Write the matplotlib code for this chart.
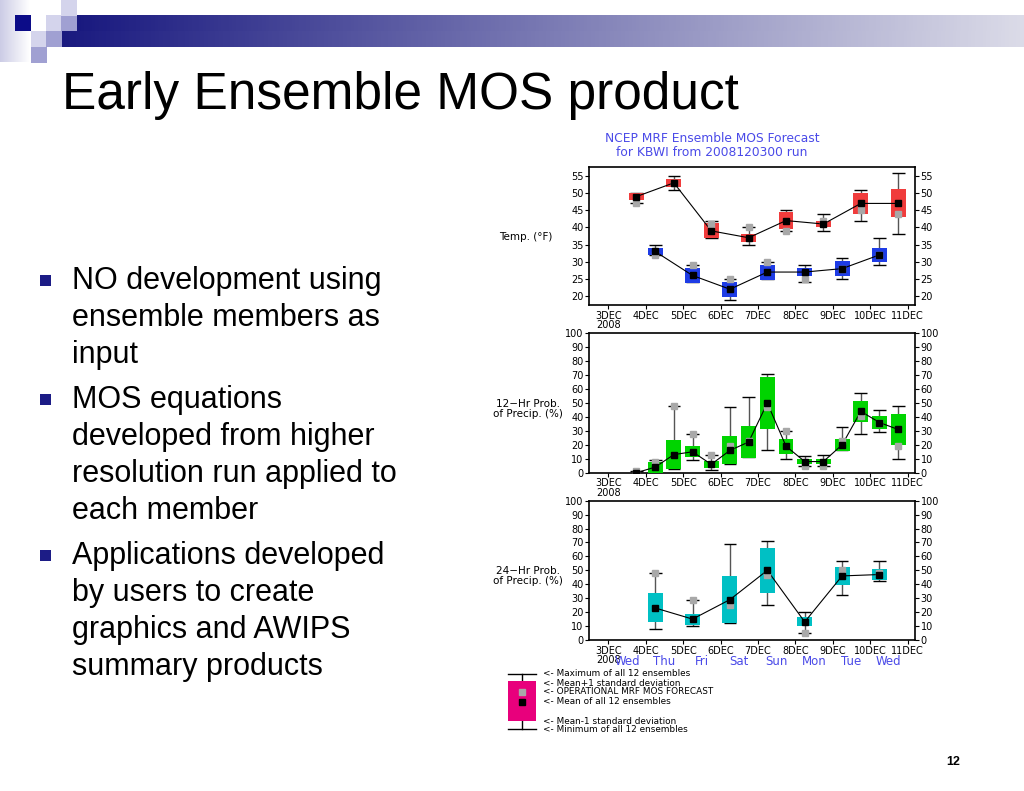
import numpy as np
import matplotlib
matplotlib.use("Agg")
import matplotlib.pyplot as plt
from matplotlib.patches import Rectangle
from matplotlib.transforms import blended_transform_factory

# ---- data (hours after 3DEC 00Z) ----
day_labels = ["3DEC\n2008", "4DEC", "5DEC", "6DEC", "7DEC", "8DEC", "9DEC", "10DEC", "11DEC"]
weekdays = ["Wed", "Thu", "Fri", "Sat", "Sun", "Mon", "Tue", "Wed"]

tmax_hr = [18, 42, 66, 90, 114, 138, 162, 186]
tmax_mean = [49, 53, 39, 37, 42, 41, 47, 47]
tmax_sd = [0.9, 1.1, 2.2, 1.1, 2.5, 1.0, 3.0, 4.1]
tmax_op = [47, 53, 41, 40, 39, 42, 45, 44]
tmax_max = [50, 55, 42, 40, 45, 44, 51, 56]
tmax_min = [47, 51, 37, 35, 39, 39, 42, 38]

tmin_hr = [30, 54, 78, 102, 126, 150, 174]
tmin_mean = [33, 26, 22, 27, 27, 28, 32]
tmin_sd = [1.1, 2.3, 2.2, 2.2, 1.1, 2.2, 2.1]
tmin_op = [32, 29, 25, 30, 25, 28, 32]
tmin_max = [35, 29, 25, 30, 29, 31, 37]
tmin_min = [32, 24, 19, 25, 24, 25, 29]

p12_hr = [18, 30, 42, 54, 66, 78, 90, 102, 114, 126, 138, 150, 162, 174, 186]
p12_mean = [0, 4, 13, 15, 6, 16, 22, 50, 19, 8, 8, 20, 44, 36, 31]
p12_sd = [0, 4, 10.4, 3.8, 2.7, 10, 11.2, 18.3, 5.4, 2, 2, 4.4, 7.3, 4.9, 11.1]
p12_op = [1, 8, 48, 28, 13, 19, 23, 47, 30, 5, 5, 23, 41, 36, 19]
p12_max = [1, 9, 48, 28, 13, 47, 54, 71, 30, 12, 13, 33, 57, 45, 48]
p12_min = [0, 1, 3, 9, 2, 6, 11, 16, 10, 5, 5, 16, 28, 29, 10]

p24_hr = [30, 54, 78, 102, 126, 150, 174]
p24_mean = [23, 15, 29, 50, 13, 46, 47]
p24_sd = [10.4, 4, 17, 16.2, 3.2, 6.3, 4.2]
p24_op = [48, 29, 25, 47, 5, 50, 48]
p24_max = [48, 29, 69, 71, 20, 57, 57]
p24_min = [8, 10, 12, 25, 5, 32, 42]

bullets = [
    ["NO development using", "ensemble members as", "input"],
    ["MOS equations", "developed from higher", "resolution run applied to", "each member"],
    ["Applications developed", "by users to create", "graphics and AWIPS", "summary products"],
]

legend_lines = ["<- Maximum of all 12 ensembles", "<- Mean+1 standard deviation",
                "<- OPERATIONAL MRF MOS FORECAST", "<- Mean of all 12 ensembles",
                "<- Mean-1 standard deviation", "<- Minimum of all 12 ensembles"]

GRAY = "#a8a8a8"
NAVY = "#1c1c86"
TXTBLUE = "#4a4ae8"
W, H = 1024, 791

fig = plt.figure(figsize=(W / 100, H / 100), dpi=100)

# background axes in pixel coordinates for slide decoration
bg = fig.add_axes([0, 0, 1, 1], zorder=0)

c0 = np.array([0.10, 0.10, 0.50])
c1 = np.array([0.86, 0.86, 0.91])
grad = np.linspace(0, 1, 256)[None, :, None]
bar = c0 + (c1 - c0) * grad
bg.imshow(bar, extent=(77, W, 31, 15), aspect="auto", zorder=1)
bg.imshow(bar, extent=(61, W, 47, 31), aspect="auto", zorder=1)
fc = np.array([0.80, 0.80, 0.90])
fade = fc + (1 - fc) * np.linspace(0, 1, 64)[None, :, None]
bg.imshow(fade, extent=(0, 30, 62, 0), aspect="auto", zorder=1)
light, mid = "#d4d4ec", "#a0a0d2"
for (x0, y0, c) in [(15, 15, "#0c0c88"), (46, 15, light), (61, 15, mid), (61, 0, light),
                    (31, 31, light), (46, 31, mid), (31, 47, mid)]:
    bg.add_patch(Rectangle((x0, y0), 15.5, 16, facecolor=c, edgecolor="none", zorder=2))
bg.set_xlim(0, W)
bg.set_ylim(H, 0)
bg.axis("off")

bg.text(62, 95, "Early Ensemble MOS product", fontsize=37, family="Liberation Sans",
        va="center", ha="left")

y = 281
for group in bullets:
    bg.add_patch(Rectangle((40, y - 6), 10.5, 10.5, facecolor=NAVY, edgecolor="none"))
    for line in group:
        bg.text(72, y, line, fontsize=22, family="Liberation Sans", va="center", ha="left")
        y += 37
    y += 8

bg.text(953, 762, "12", fontsize=9, fontweight="bold", family="Liberation Sans",
        ha="center", va="center")

# chart titles and side labels
bg.text(712, 139, "NCEP MRF Ensemble MOS Forecast", color=TXTBLUE, fontsize=8.8, ha="center", va="center")
bg.text(712, 153, "for KBWI from 2008120300 run", color=TXTBLUE, fontsize=8.8, ha="center", va="center")
bg.text(526, 237, "Temp. (\u00b0F)", fontsize=7.5, ha="center", va="center")
bg.text(528, 409, "12\u2212Hr Prob.\nof Precip. (%)", fontsize=7.5, ha="center", va="center", linespacing=1.0)
bg.text(528, 576, "24\u2212Hr Prob.\nof Precip. (%)", fontsize=7.5, ha="center", va="center", linespacing=1.0)

# legend schematic
bg.plot([522, 522], [674, 729], color="black", lw=1, zorder=2)
bg.plot([508, 536], [674, 674], color="black", lw=1, zorder=2)
bg.plot([508, 536], [729, 729], color="black", lw=1, zorder=2)
bg.add_patch(Rectangle((508, 681), 28, 40, facecolor="#e8007c", edgecolor="none", zorder=3))
bg.plot(522, 692, "s", color=GRAY, ms=4, zorder=4)
bg.plot(522, 702, "s", color="black", ms=4, zorder=4)
for ty, t in zip([674, 683, 692, 702, 721, 730], legend_lines):
    bg.text(543, ty, t, fontsize=6.4, ha="left", va="center")


def draw_boxes(ax, hours, mean, sd, op, vmax, vmin, color):
    x = np.array(hours) / 24.0
    mean = np.array(mean, dtype=float)
    sd = np.array(sd, dtype=float)
    w = 0.4
    for i in range(len(x)):
        ax.vlines(x[i], vmin[i], vmax[i], color="#555555", lw=1, zorder=2)
        ax.hlines([vmin[i], vmax[i]], x[i] - 0.17, x[i] + 0.17, color="black", lw=1, zorder=2)
        ax.add_patch(Rectangle((x[i] - w / 2, mean[i] - sd[i]), w, 2 * sd[i],
                               facecolor=color, edgecolor="none", zorder=3))
    ax.plot(x, mean, color="black", lw=0.8, zorder=4)
    ax.plot(x, op, "s", color=GRAY, ms=4, zorder=5)
    ax.plot(x, mean, "s", color="black", ms=4, zorder=6)


def setup(ax, ylim, yticks):
    ax.set_xlim(-0.52, 8.2)
    ax.set_ylim(*ylim)
    ax.set_yticks(yticks)
    ax.set_xticks(range(9))
    ax.set_xticklabels(day_labels, linespacing=0.95)
    ax.tick_params(direction="out", length=3, labelsize=7, right=True, labelright=True, pad=1)
    for s in ax.spines.values():
        s.set_linewidth(1.2)
    ax.set_facecolor("none")


def px_axes(left, right, top, bottom):
    return fig.add_axes([left / W, 1 - bottom / H, (right - left) / W, (bottom - top) / H], zorder=2)


ax1 = px_axes(589, 915, 166.7, 305)
setup(ax1, (17.4, 57.7), range(20, 56, 5))
draw_boxes(ax1, tmax_hr, tmax_mean, tmax_sd, tmax_op, tmax_max, tmax_min, "#f03c3c")
draw_boxes(ax1, tmin_hr, tmin_mean, tmin_sd, tmin_op, tmin_max, tmin_min, "#1e3ce6")

ax2 = px_axes(589, 915, 333.3, 472.7)
setup(ax2, (0, 100), range(0, 101, 10))
draw_boxes(ax2, p12_hr, p12_mean, p12_sd, p12_op, p12_max, p12_min, "#00d400")

ax3 = px_axes(589, 915, 500.7, 640)
setup(ax3, (0, 100), range(0, 101, 10))
draw_boxes(ax3, p24_hr, p24_mean, p24_sd, p24_op, p24_max, p24_min, "#00c0c4")
tr = blended_transform_factory(ax3.transData, ax3.transAxes)
for i, d in enumerate(weekdays):
    ax3.text(i + 0.5, -0.152, d, color=TXTBLUE, fontsize=8.5, ha="center", va="center",
             transform=tr, clip_on=False)

fig.savefig("out.png", dpi=100)
